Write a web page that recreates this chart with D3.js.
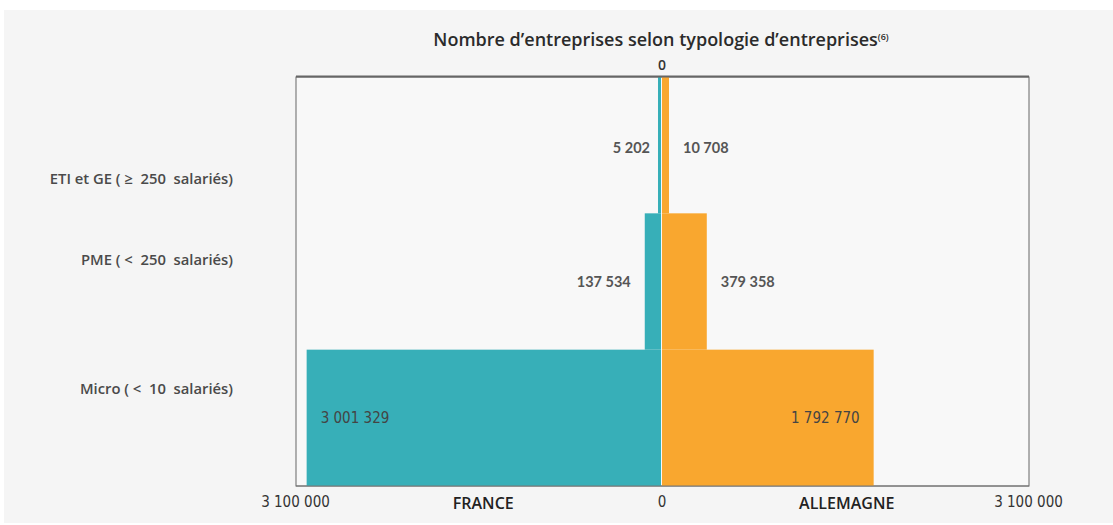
<!DOCTYPE html>
<html lang="fr">
<head>
<meta charset="UTF-8">
<title>Nombre d'entreprises selon typologie</title>
<script src="https://d3js.org/d3.v7.min.js"></script>
<style>
    body { margin: 0; background: #fff; }
    svg { display: block; font-family: Lato, "Noto Sans", sans-serif; }
    .title { font-family: "Open Sans", sans-serif; font-size: 18px; font-weight: 600; fill: #2b2b2b; }
    .cat { font-family: "Open Sans", sans-serif; font-size: 14.8px; font-weight: 600; fill: #4a4a4a; white-space: pre; }
    .val { font-size: 14.5px; font-weight: 700; fill: #555; }
    .val.inside { font-weight: 400; fill: #444; font-family: "Liberation Sans Narrow", "DejaVu Sans Condensed", Lato, sans-serif; font-size: 15px; }
    .tick text { font-family: "Liberation Sans Narrow", "DejaVu Sans Condensed", Lato, sans-serif; font-size: 15px; fill: #333; }
    .country { font-family: "Open Sans", sans-serif; font-size: 16px; font-weight: 600; fill: #222; }
</style>
</head>
<body>
<svg width="1113" height="525"></svg>
<script>
    const categories = ["ETI et GE ( \u2265  250  salariés)", "PME ( <  250  salariés)", "Micro ( <  10  salariés)"];
    const france = [5202, 137534, 3001329];
    const allemagne = [10708, 379358, 1792770];
    const countries = ["FRANCE", "ALLEMAGNE"];
    const axisMax = 3100000;

    const svg = d3.select("svg");
    const fr = d3.formatLocale({ decimal: ",", thousands: " ", grouping: [3], currency: ["", " €"] });
    const fmt = fr.format(",");

    // background panel
    svg.append("rect").attr("x", 4).attr("y", 10).attr("width", 1109).attr("height", 513).attr("fill", "#f5f5f5");

    const plotL = 296, plotR = 1029, plotT = 77, plotB = 486, mid = 661;

    const y = d3.scaleBand().domain(categories).range([plotT, plotB]).padding(0);
    const xFr = d3.scaleLinear().domain([0, axisMax]).range([mid, plotL - 1]);
    const xDe = d3.scaleLinear().domain([0, axisMax]).range([mid + 1, plotR - 1]);
    const xAxis = d3.scaleLinear().domain([-axisMax, axisMax]).range([plotL - 1, plotR - 1]);

    // frame
    svg.append("rect").attr("x", plotL).attr("y", plotT).attr("width", plotR - plotL).attr("height", plotB - plotT)
        .attr("fill", "#f8f8f8").attr("stroke", "#666").attr("stroke-width", 1);

    // bars
    const minW = 3;
    svg.append("g").selectAll("rect").data(categories).join("rect")
        .attr("x", (d, i) => Math.min(xFr(france[i]), mid - minW))
        .attr("y", d => y(d))
        .attr("width", (d, i) => Math.max(mid - xFr(france[i]), minW))
        .attr("height", y.bandwidth())
        .attr("fill", "#37afb8");
    svg.append("g").selectAll("rect").data(categories).join("rect")
        .attr("x", xDe(0))
        .attr("y", d => y(d))
        .attr("width", (d, i) => Math.max(xDe(allemagne[i]) - xDe(0), minW * 2 + 1))
        .attr("height", y.bandwidth())
        .attr("fill", "#f9a72f");

    // top / bottom frame lines
    svg.append("line").attr("x1", plotL).attr("x2", plotR).attr("y1", plotT - 0.5).attr("y2", plotT - 0.5)
        .attr("stroke", "#666").attr("stroke-width", 2);
    svg.append("line").attr("x1", plotL).attr("x2", plotR).attr("y1", plotB).attr("y2", plotB)
        .attr("stroke", "#777").attr("stroke-width", 1);

    // value labels
    const big = 1000000;
    categories.forEach((c, i) => {
        const cy = y(c) + y.bandwidth() / 2 + (i === 0 ? 3 : 0);
        const fIn = france[i] > big;
        svg.append("text").attr("class", "val" + (fIn ? " inside" : ""))
            .attr("x", fIn ? xFr(france[i]) + 14 : Math.min(xFr(france[i]), mid - minW) - (i === 0 ? 8 : 14))
            .attr("y", cy).attr("dy", "0.35em")
            .attr("text-anchor", fIn ? "start" : "end")
            .text(fmt(france[i]));
        const dIn = allemagne[i] > big;
        const dEnd = xDe(0) + Math.max(xDe(allemagne[i]) - xDe(0), minW * 2 + 1);
        svg.append("text").attr("class", "val" + (dIn ? " inside" : ""))
            .attr("x", dIn ? dEnd - 14 : dEnd + 14)
            .attr("y", cy).attr("dy", "0.35em")
            .attr("text-anchor", dIn ? "end" : "start")
            .text(fmt(allemagne[i]));
    });

    // category labels (placed as in the original layout)
    const labelShift = [0.75, 0.34, 0.29];
    svg.append("g").selectAll("text").data(categories).join("text")
        .attr("class", "cat")
        .attr("x", 233)
        .attr("y", (d, i) => y(d) + y.bandwidth() * labelShift[i])
        .attr("dy", "0.35em")
        .attr("text-anchor", "end")
        .text(d => d);

    // axes
    const gb = svg.append("g").attr("transform", `translate(0,${plotB})`)
        .call(d3.axisBottom(xAxis).tickValues([-axisMax, 0, axisMax]).tickSize(0).tickPadding(10)
            .tickFormat(d => fmt(Math.abs(d))));
    gb.select(".domain").remove();

    const gt = svg.append("g").attr("transform", `translate(0,${plotT - 1})`)
        .call(d3.axisTop(xAxis).tickValues([0]).tickSize(0).tickPadding(6).tickFormat(d => "0"));
    gt.select(".domain").remove();
    gt.selectAll(".tick text").style("font-family", "'Open Sans', sans-serif").style("font-weight", 600).style("font-size", "14px").attr("fill", "#333");

    svg.append("g").selectAll("text").data(countries).join("text")
        .attr("class", "country")
        .attr("x", (d, i) => i === 0 ? (xAxis(-axisMax) + xAxis(0)) / 2 + 5 : (xAxis(0) + xAxis(axisMax)) / 2 + 2)
        .attr("y", 509)
        .attr("text-anchor", "middle")
        .text(d => d);

    // title
    const title = svg.append("text").attr("class", "title").attr("x", mid).attr("y", 46).attr("text-anchor", "middle");
    title.append("tspan").text("Nombre d\u2019entreprises selon typologie d\u2019entreprises");
    title.append("tspan").attr("font-size", "9px").attr("dy", "-6").text("(6)");
</script>
</body>
</html>
